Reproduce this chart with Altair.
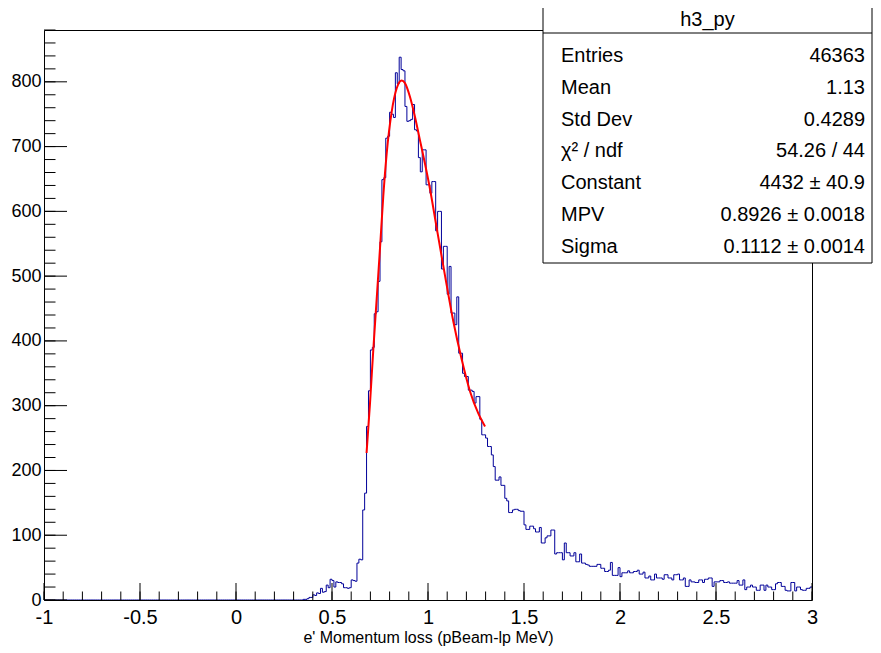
import altair as alt
import numpy as np
import pandas as pd

FONT = "'Liberation Sans Narrow', 'Noto Sans Condensed', 'Liberation Sans', sans-serif"

# ---- histogram h3_py : 400 bins of width 0.01 on [-1, 3] ----
bin_low = -1.0
bin_width = 0.01
n_bins = 400
first_filled_bin = 135  # bin starting at x = 0.35

counts_rise = [1, 1, 2, 4, 4, 8, 7, 11, 10, 18, 12, 13, 23, 19, 32, 30, 20, 28, 27, 27,
               25, 19, 19, 18, 19, 31, 30, 29, 57, 63, 62, 139, 165]            # 0.35 - 0.67
counts_peak = [268, 323, 386, 390, 442, 445, 492, 553, 649, 652, 713, 716, 753, 750, 745,
               814, 797, 838, 819, 817, 762, 739, 740, 742, 765, 726, 724, 683, 661, 695,
               695, 641]                                                          # 0.68 - 0.99
counts_fall = [641, 628, 646, 646, 570, 600, 600, 511, 546, 546, 472, 515, 443, 443, 425,
               468, 381, 381, 350, 345, 345, 324, 324, 322, 304, 314, 314, 279, 255, 255,
               250, 237, 237, 224, 206, 185, 185, 190, 177, 177, 157, 153, 135, 135, 139,
               140, 140, 138, 137, 137]                                           # 1.00 - 1.49
counts_tail1 = [116, 109, 109, 114, 114, 110, 105, 105, 112, 88, 88, 96, 99, 99, 108,
                108, 71, 73, 73, 73, 62, 88, 73, 73, 68, 68, 73, 59, 59, 71,
                57, 57, 55, 54, 52, 52, 52, 52, 55, 55, 49, 49, 44, 44, 46,
                58, 38, 38, 38, 50]                                               # 1.50 - 1.99
counts_tail2 = [36, 42, 42, 42, 45, 42, 42, 44, 44, 46,
                40, 40, 43, 34, 34, 37, 31, 31, 40, 34,
                34, 34, 32, 39, 39, 34, 34, 31, 39, 39,
                40, 31, 31, 34, 21, 21, 31, 28, 28, 27,
                27, 31, 31, 27, 32, 32, 34, 34, 21, 28,
                28, 28, 30, 30, 27, 27, 28, 26, 26, 26,
                26, 30, 23, 23, 31, 16, 20, 20, 23, 20,
                20, 15, 15, 23, 23, 15, 23, 20, 20, 16,
                16, 25, 27, 27, 21, 21, 15, 14, 14, 27,
                27, 14, 20, 20, 16, 15, 15, 18, 18, 20]                           # 2.00 - 2.99

# ---- Landau fit curve ----
fit_x = [0.680, 0.698, 0.715, 0.733, 0.750, 0.767, 0.785, 0.811, 0.837, 0.863, 0.880,
         0.906, 0.932, 0.958, 0.984, 1.007, 1.045, 1.089, 1.132, 1.175, 1.219, 1.262, 1.297]
fit_y = [227, 304, 386, 466, 543, 623, 690, 754, 790, 802, 798,
         777, 746, 710, 674, 640, 575, 500, 430, 372, 322, 288, 268]

# ---- axes ----
x_major = [-1, -0.5, 0, 0.5, 1, 1.5, 2, 2.5, 3]
x_minor = [round(-1 + 0.1 * i, 2) for i in range(41)]
y_major = [0, 100, 200, 300, 400, 500, 600, 700, 800]
y_minor = [20 * i for i in range(45)]

# ---- stats box ----
stats_title = "h3_py"
stats_labels = ["Entries", "Mean", "Std Dev", "χ² / ndf", "Constant", "MPV", "Sigma"]
stats_values = ["46363", "1.13", "0.4289", "54.26 / 44", "4432 ± 40.9",
                "0.8926 ± 0.0018", "0.1112 ± 0.0014"]

filled = counts_rise + counts_peak + counts_fall + counts_tail1 + counts_tail2
counts = [0] * first_filled_bin + filled
counts = (counts + [0] * n_bins)[:n_bins]
edges = bin_low + bin_width * np.arange(n_bins + 1)
hist_df = pd.DataFrame({"x": edges, "n": counts + [counts[-1]]})
fit_df = pd.DataFrame({"x": fit_x, "y": fit_y})

W, H = 768, 570
xscale = alt.Scale(domain=[-1, 3], nice=False, zero=False)
yscale = alt.Scale(domain=[0, 880], nice=False)

x_axis = alt.Axis(values=x_major, labelExpr="'' + datum.value", domain=False, ticks=False,
                  grid=False, labelFont=FONT, labelFontSize=20, labelColor="black",
                  labelPadding=7, labelFlush=False, labelOverlap=False,
                  title="e' Momentum loss (pBeam-lp MeV)", titleFont=FONT, titleFontSize=16,
                  titleFontWeight="normal", titleColor="black", titlePadding=2)
y_axis = alt.Axis(values=y_major, labelExpr="'' + datum.value", domain=False, ticks=False,
                  grid=False, labelFont=FONT, labelFontSize=18, labelColor="black",
                  labelPadding=3, labelFlush=False, labelOverlap=False, title=None)

hist = alt.Chart(hist_df).mark_line(interpolate="step-after", color="#000099",
                                    strokeWidth=1, clip=True).encode(
    x=alt.X("x:Q", scale=xscale, axis=x_axis),
    y=alt.Y("n:Q", scale=yscale, axis=y_axis),
)

fit = alt.Chart(fit_df).mark_line(color="#ff0000", strokeWidth=2, interpolate="monotone").encode(
    x=alt.X("x:Q", scale=xscale),
    y=alt.Y("y:Q", scale=yscale),
)

xt_major = alt.Chart(pd.DataFrame({"t": x_major})).mark_rule(color="black", strokeWidth=1).encode(
    x=alt.X("t:Q", scale=xscale), y=alt.value(H), y2=alt.value(H - 17))
xt_minor = alt.Chart(pd.DataFrame({"t": x_minor})).mark_rule(color="black", strokeWidth=1).encode(
    x=alt.X("t:Q", scale=xscale), y=alt.value(H), y2=alt.value(H - 8.5))
yt_major = alt.Chart(pd.DataFrame({"t": y_major})).mark_rule(color="black", strokeWidth=1).encode(
    y=alt.Y("t:Q", scale=yscale), x=alt.value(0), x2=alt.value(23))
yt_minor = alt.Chart(pd.DataFrame({"t": y_minor})).mark_rule(color="black", strokeWidth=1).encode(
    y=alt.Y("t:Q", scale=yscale), x=alt.value(0), x2=alt.value(11.5))

one = pd.DataFrame({"a": [0]})
box = alt.Chart(one).mark_rect(fill="white", stroke="black", strokeWidth=1).encode(
    x=alt.value(499), x2=alt.value(828), y=alt.value(-40), y2=alt.value(233))
box_sep = alt.Chart(one).mark_rule(color="black", strokeWidth=1).encode(
    x=alt.value(499), x2=alt.value(828), y=alt.value(3))
box_title = alt.Chart(pd.DataFrame({"t": [stats_title]})).mark_text(
    font=FONT, fontSize=20, color="black", align="center", baseline="middle").encode(
    text="t:N", x=alt.value(663.5), y=alt.value(-10))

stats_df = pd.DataFrame({"label": stats_labels, "value": stats_values,
                         "row": list(range(len(stats_labels)))})
stats_base = alt.Chart(stats_df).transform_calculate(py="26 + 31.8 * datum.row")
stats_lab = stats_base.mark_text(font=FONT, fontSize=20, color="black", align="left",
                                 baseline="middle").encode(
    text="label:N", x=alt.value(517), y=alt.Y("py:Q", scale=None))
stats_val = stats_base.mark_text(font=FONT, fontSize=20, color="black", align="right",
                                 baseline="middle").encode(
    text="value:N", x=alt.value(821), y=alt.Y("py:Q", scale=None))

chart = alt.layer(
    hist, fit, xt_major, xt_minor, yt_major, yt_minor,
    box, box_sep, box_title, stats_lab, stats_val
).properties(
    width=W, height=H,
    autosize=alt.AutoSizeParams(type="none"),
    padding={"left": 36, "top": 22, "right": 61, "bottom": 48},
    background="white",
).configure_view(stroke="black", strokeWidth=1)

chart.save("out.html", embed_options={"renderer": "svg", "actions": False})
